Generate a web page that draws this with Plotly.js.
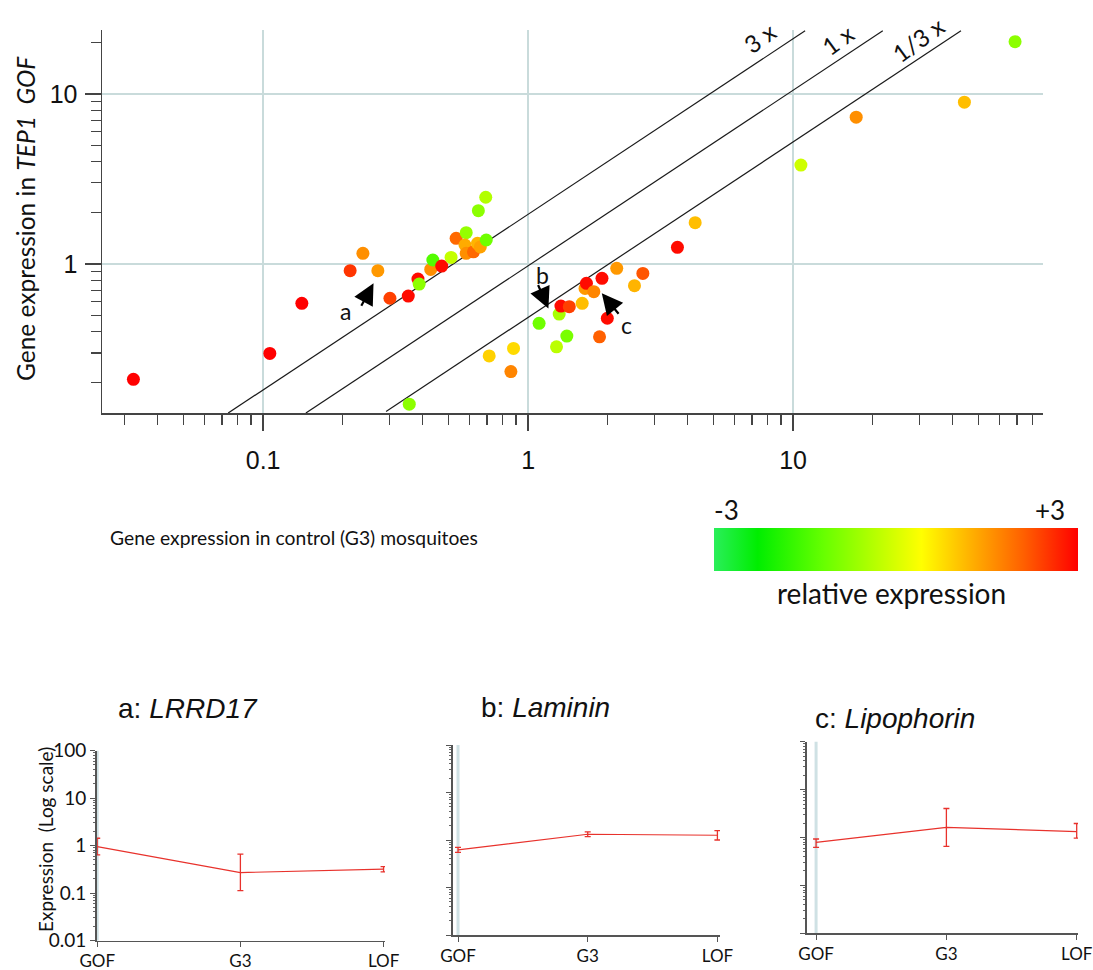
<!DOCTYPE html>
<html>
<head>
<meta charset="utf-8">
<script src="https://cdn.plot.ly/plotly-3.0.1.min.js"></script>
<style>
html,body{margin:0;padding:0;background:#ffffff;}
#chart{width:1093px;height:970px;}
</style>
</head>
<body>
<div id="chart"></div>
<script>
// ---------- main scatter data ----------
const controlExpr = [0.0324, 0.106, 0.140, 0.213, 0.238, 0.271, 0.301, 0.353, 0.384, 0.388,
  0.356, 0.429, 0.437, 0.472, 0.512, 0.535, 0.584, 0.578, 0.584, 0.622,
  0.644, 0.660, 0.695, 0.649, 0.692, 1.10, 1.31, 1.33, 1.43, 1.60,
  1.40, 1.28, 1.64, 1.66, 1.77, 1.90, 1.99, 1.86, 2.16, 2.71,
  2.52, 0.713, 0.881, 0.861, 3.66, 4.27, 10.7, 17.3, 44.3, 68.8];
const gofExpr = [0.210, 0.298, 0.587, 0.914, 1.156, 0.914, 0.629, 0.648, 0.816, 0.762,
  0.150, 0.930, 1.056, 0.973, 1.094, 1.416, 1.528, 1.294, 1.156, 1.180,
  1.324, 1.260, 1.384, 2.060, 2.470, 0.448, 0.508, 0.566, 0.561, 0.587,
  0.377, 0.326, 0.719, 0.770, 0.688, 0.824, 0.480, 0.373, 0.943, 0.881,
  0.746, 0.288, 0.319, 0.233, 1.253, 1.750, 3.820, 7.300, 8.940, 20.30];
const relativeExpr = [3.0, 3.0, 3.0, 2.5, 1.6, 1.5, 2.4, 2.9, 2.9, -0.8,
  -0.8, 1.6, -1.4, 2.9, -0.2, 2.0, -0.7, 1.3, 1.6, 2.0,
  1.2, 1.4, -1.1, -0.8, -0.4, -1.1, -0.5, 2.9, 2.4, 1.1,
  -1.0, -0.3, 1.5, 2.9, 1.7, 2.9, 2.9, 2.1, 1.5, 2.2,
  1.2, 0.9, 0.8, 1.7, 2.9, 1.1, -0.1, 1.6, 1.1, -0.8];

// reference ratio lines (end points)
const line3xX = [0.0738, 11.1];
const line3xY = [0.133, 23.5];
const line1xX = [0.145, 21.8];
const line1xY = [0.133, 23.5];
const line13xX = [0.291, 43.0];
const line13xY = [0.136, 23.5];

// ---------- small panels ----------
const conditions = ['GOF', 'G3', 'LOF'];
const lrrd17 = [0.95, 0.27, 0.32];
const lrrd17Upper = [1.43, 0.66, 0.36];
const lrrd17Lower = [0.635, 0.112, 0.28];
const laminin = [0.62, 1.32, 1.26];
const lamininUpper = [0.70, 1.48, 1.57];
const lamininLower = [0.55, 1.18, 1.00];
const lipophorin = [0.79, 1.62, 1.33];
const lipophorinUpper = [0.93, 4.03, 1.96];
const lipophorinLower = [0.62, 0.65, 0.97];

const W = 1093, H = 970;
const px = x => x / W;
const py = y => 1 - y / H;

const scale = [
  [0.00, '#2aee5a'], [0.12, '#00ee00'], [0.30, '#66ff00'], [0.45, '#bbff00'],
  [0.57, '#ffff00'], [0.70, '#ffb400'], [0.85, '#ff6000'], [1.00, '#ff0000']
];

const idx = conditions.map((c, i) => i);
const diff = (a, b) => a.map((v, i) => v - b[i]);

const traces = [];
const lineStyle = {color: '#1a1a1a', width: 1.2};
[[line3xX, line3xY], [line1xX, line1xY], [line13xX, line13xY]].forEach(([lx, ly]) => {
  traces.push({x: lx, y: ly, xaxis: 'x', yaxis: 'y', mode: 'lines', line: lineStyle, hoverinfo: 'skip', showlegend: false});
});
traces.push({
  x: controlExpr, y: gofExpr, xaxis: 'x', yaxis: 'y', mode: 'markers', showlegend: false,
  marker: {
    size: 13, color: relativeExpr, colorscale: scale, cmin: -3, cmax: 3, line: {width: 0},
    showscale: true,
    colorbar: {
      orientation: 'h', x: px(714), xanchor: 'left', y: py(528), yanchor: 'top',
      len: 364, lenmode: 'pixels', thickness: 43, thicknessmode: 'pixels',
      xpad: 0, ypad: 0, outlinewidth: 0, showticklabels: false, ticks: ''
    }
  }
});

const panelSets = [
  [lrrd17, lrrd17Upper, lrrd17Lower, 'x2', 'y2'],
  [laminin, lamininUpper, lamininLower, 'x3', 'y3'],
  [lipophorin, lipophorinUpper, lipophorinLower, 'x4', 'y4']
];
panelSets.forEach(([v, up, lo, xa, ya]) => {
  traces.push({
    x: idx, y: v, xaxis: xa, yaxis: ya, mode: 'lines', showlegend: false,
    line: {color: '#e8322c', width: 1.2},
    error_y: {type: 'data', symmetric: false, array: diff(up, v), arrayminus: diff(v, lo),
      color: '#e8322c', thickness: 1.3, width: 3}
  });
});

const myriad = 'Lato, Open Sans, sans-serif';
const helv = 'Liberation Sans, Arial, sans-serif';
const tickFont = {family: helv, size: 25, color: '#111'};
const smallFont = {family: myriad, size: 17, color: '#111'};

function panelX(domain, range) {
  return {domain: domain, range: range, tickvals: idx, ticktext: conditions, showgrid: false, zeroline: false,
    showline: true, linecolor: '#555', linewidth: 1.5, ticks: 'outside', ticklen: 5, tickcolor: '#555',
    tickfont: smallFont, ticklabelstandoff: 0, fixedrange: true};
}
function panelY(domain, anchor, labels) {
  return {domain: domain, anchor: anchor, type: 'log', range: [-2, 2], dtick: 1, showgrid: false, zeroline: false,
    showline: true, linecolor: '#555', linewidth: 1.5, ticks: 'outside', ticklen: 5, tickcolor: '#555',
    showticklabels: labels, tickfont: {family: myriad, size: 19, color: '#111'}, ticklabelstandoff: 0,
    minor: {ticks: 'outside', ticklen: 2.5, dtick: 'D1', tickcolor: '#666', showgrid: false}, fixedrange: true};
}

const layout = {
  width: W, height: H, margin: {l: 0, r: 0, t: 0, b: 0, autoexpand: false},
  paper_bgcolor: '#ffffff', plot_bgcolor: 'rgba(0,0,0,0)', showlegend: false,
  xaxis: {
    domain: [px(102), px(1043)], type: 'log', range: [-1.608, 1.943], anchor: 'y',
    dtick: 1, showgrid: true, gridcolor: '#c9dbdb', gridwidth: 1.5, zeroline: false,
    showline: true, linecolor: '#444', linewidth: 1.5, ticks: 'outside', ticklen: 16, tickcolor: '#444', tickwidth: 1.3,
    tickfont: tickFont, ticklabelstandoff: 8,
    minor: {ticks: 'outside', ticklen: 10, dtick: 'D1', tickcolor: '#444', tickwidth: 1.2, showgrid: false}
  },
  yaxis: {
    domain: [py(413), py(30)], type: 'log', range: [-0.876, 1.376], anchor: 'x',
    dtick: 1, showgrid: true, gridcolor: '#c9dbdb', gridwidth: 1.5, zeroline: false,
    showline: true, linecolor: '#444', linewidth: 1.5, ticks: 'outside', ticklen: 16, tickcolor: '#444', tickwidth: 1.3,
    tickfont: tickFont, ticklabelstandoff: 2,
    minor: {ticks: 'outside', ticklen: 10, dtick: 'D1', tickcolor: '#444', tickwidth: 1.2, showgrid: false}
  },
  xaxis2: Object.assign(panelX([px(96.5), px(385)], [-0.005, 2.01]), {anchor: 'y2'}),
  yaxis2: panelY([py(940.5), py(750.7)], 'x2', true),
  xaxis3: Object.assign(panelX([px(452.7), px(720)], [-0.041, 2.02]), {anchor: 'y3'}),
  yaxis3: panelY([py(935), py(745)], 'x3', false),
  xaxis4: Object.assign(panelX([px(806.7), px(1078)], [-0.072, 2.01]), {anchor: 'y4'}),
  yaxis4: panelY([py(933.3), py(741.7)], 'x4', false),
  shapes: ['2', '3', '4'].map(n => ({
    type: 'line', xref: 'x' + n, yref: 'y' + n + ' domain', x0: 0, x1: 0, y0: 0, y1: 1,
    line: {color: '#cfe1e4', width: 3}, layer: 'below'
  })),
  annotations: []
};

const A = layout.annotations;
function txt(x, y, text, size, opts) {
  A.push(Object.assign({xref: 'paper', yref: 'paper', x: px(x), y: py(y), text: text, showarrow: false,
    xanchor: 'center', yanchor: 'middle', font: {family: myriad, size: size, color: '#111'}}, opts || {}));
}
// axis titles
txt(294, 537, 'Gene expression in control (G3) mosquitoes', 19.3);
txt(26, 219, 'Gene expression in <i>TEP1\u00a0 GOF</i>', 24.5, {textangle: -90});
// ratio line labels
txt(760, 38, '3 x', 24, {textangle: -36});
txt(838, 40, '1 x', 24, {textangle: -36});
txt(918, 40, '1/3 x', 24, {textangle: -36});
// colour bar labels
txt(726, 510, '-3', 26);
txt(1050, 510, '+3', 26);
txt(891, 593, 'relative expression', 28);
// arrows a, b, c (tips in data coordinates)
function arrow(xv, yv, ax, ay) {
  A.push({xref: 'x', yref: 'y', x: Math.log10(xv), y: Math.log10(yv), ax: ax, ay: ay, text: '',
    showarrow: true, arrowhead: 2, arrowsize: 1.9, arrowwidth: 2.2, arrowcolor: '#000', standoff: 0});
}
arrow(0.261, 0.77, -13, 24);
arrow(1.193, 0.548, -11, -25);
arrow(1.897, 0.673, 18, 22);
txt(345, 311, 'a', 23);
txt(542, 275, 'b', 23);
txt(626, 325, 'c', 23);
// panel titles
const titleFont = {family: helv, size: 28, color: '#111'};
txt(188, 708, 'a: <i>LRRD17</i>', 28, {font: titleFont});
txt(545, 707, 'b: <i>Laminin</i>', 28, {font: titleFont});
txt(895, 718, 'c: <i>Lipophorin</i>', 28, {font: titleFont});
txt(45, 840, 'Expression\u00a0 (Log scale)', 19, {textangle: -90});

Plotly.newPlot('chart', traces, layout, {staticPlot: true, displayModeBar: false});
</script>
</body>
</html>
